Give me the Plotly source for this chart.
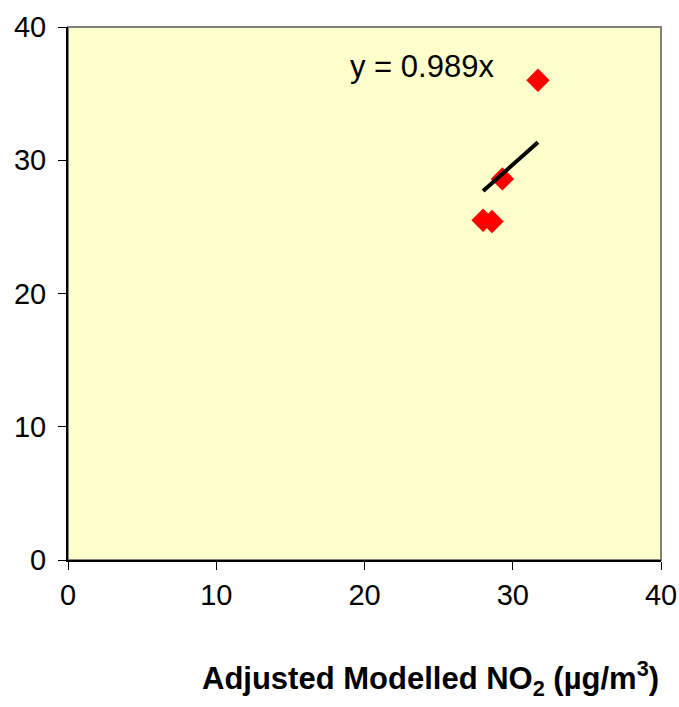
import plotly.graph_objects as go

modelled = [28.0, 28.6, 29.3, 31.7]
monitored = [25.5, 25.4, 28.6, 36.0]
slope = 0.989
tick_vals = [0, 10, 20, 30, 40]

x_line = [min(modelled), max(modelled)]
y_line = [slope * v for v in x_line]

FONT = "Liberation Sans, Arial, sans-serif"

fig = go.Figure()
fig.add_trace(go.Scatter(x=modelled, y=monitored, mode="markers",
                         marker=dict(symbol="diamond", size=18, color="#FF0000",
                                     line=dict(width=0)),
                         showlegend=False, hoverinfo="x+y"))
fig.add_trace(go.Scatter(x=x_line, y=y_line, mode="lines",
                         line=dict(color="black", width=4),
                         showlegend=False, hoverinfo="skip"))

fig.add_annotation(x=23.9, y=37.0, xref="x", yref="y", text=f"y = {slope}x",
                   showarrow=False, font=dict(size=31, color="black", family=FONT))
fig.add_annotation(x=1.0, y=-0.222, xref="paper", yref="paper",
                   xanchor="right", yanchor="middle",
                   text="<b>Adjusted Modelled NO<sub>2</sub> (µg/m<sup>3</sup>)</b>",
                   showarrow=False, font=dict(size=31, color="black", family=FONT))

fig.add_shape(type="rect", xref="paper", yref="paper", x0=0, y0=0, x1=1, y1=1,
              line=dict(color="#808080", width=2), layer="below")

axis_common = dict(range=[0, 40], tickvals=tick_vals, showgrid=False, zeroline=False,
                   showline=True, linecolor="black", linewidth=2,
                   ticks="outside", ticklen=8, tickcolor="black", tickwidth=1,
                   tickfont=dict(size=29, color="black", family=FONT),
                   automargin=False, fixedrange=True)

fig.update_layout(
    width=679, height=707,
    margin=dict(l=68, r=18, t=27, b=147, autoexpand=False),
    paper_bgcolor="white", plot_bgcolor="#FFFFCC",
    xaxis=axis_common,
    yaxis=dict(axis_common, ticklabelstandoff=6),
)
fig.write_html("out.html", config={"displayModeBar": False},
               post_script="document.body.style.margin='0';")
